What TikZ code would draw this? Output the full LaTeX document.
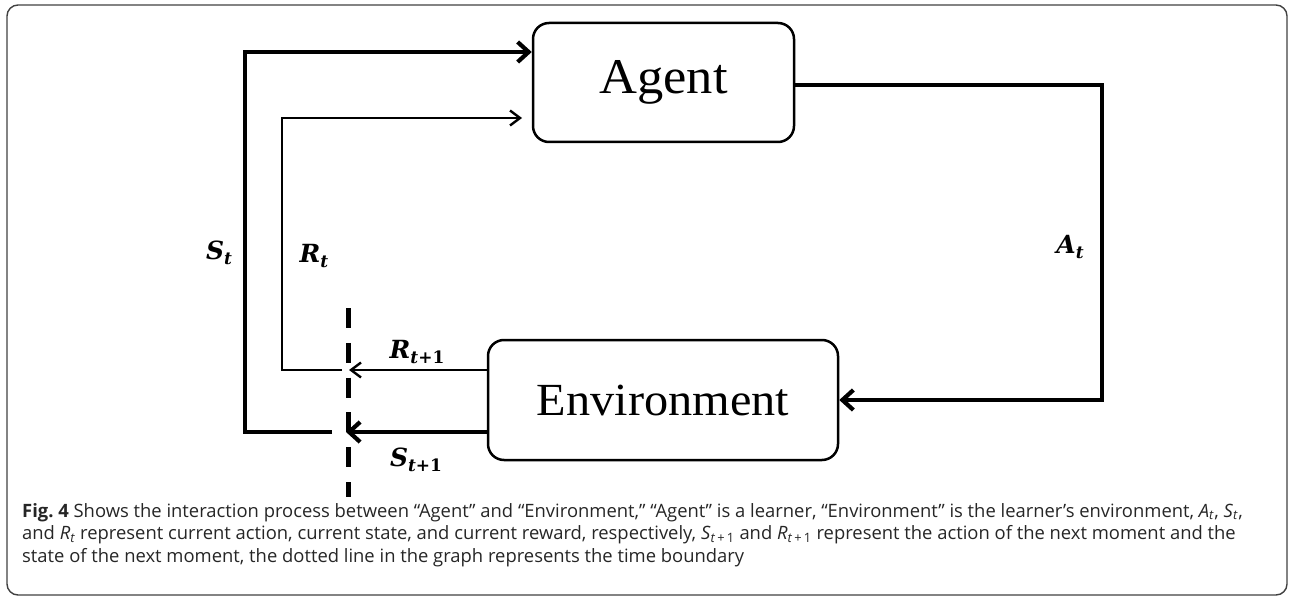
\documentclass[tikz,border=0pt]{standalone}
\usepackage{fontspec}
\setmainfont{Liberation Serif}
\newfontfamily\capfont{Open Sans}
\newfontfamily\labfont{DejaVu Serif}
\usetikzlibrary{arrows.meta}
\newcommand{\lbl}[2]{{\labfont\bfseries\itshape #1\raisebox{-5pt}{\fontsize{17}{17}\selectfont #2}}}
\begin{document}
\begin{tikzpicture}[x=1pt,y=-1pt,
  box/.style={draw, line width=2.5pt, rounded corners=16pt, inner sep=0pt},
  thickln/.style={line width=4.2pt},
  thinln/.style={line width=2.4pt},
  thickarr/.style={thickln, -{Straight Barb[length=11pt,width=20pt]}},
  thinarr/.style={thinln, -{Straight Barb[length=10pt,width=15pt]}},
  lab/.style={inner sep=0pt, font=\fontsize{25}{25}\selectfont},
  capline/.style={anchor=base west, inner sep=0pt, text=black!85, font=\capfont\fontsize{18.4}{18.4}\selectfont},
  timeline/.style={line width=5pt, dash pattern=on 20pt off 14.8pt}
]
\useasboundingbox (0,0) rectangle (1290,596);
% outer frame
\draw[line width=1.4pt, draw=black!75, rounded corners=11pt] (7,5) rectangle (1287,595);

% boxes
\node[box, minimum width=261pt, minimum height=119pt] (agent) at (663.5,82.5)
  {\scalebox{1.05}[1]{\fontsize{50}{50}\selectfont Agent}};
\node[box, minimum width=350pt, minimum height=120pt] (env) at (663,400)
  {\scalebox{1.05}[1]{\fontsize{46}{46}\selectfont Environment}};

% coordinates
\coordinate (sL) at (332,432);
\coordinate (sC1) at (245,432);
\coordinate (sC2) at (245,52);
\coordinate (sTip) at (346,432);
\coordinate (rL) at (342,370);
\coordinate (rC1) at (282,370);
\coordinate (rC2) at (282,118);
\coordinate (rEnd) at (522,118);
\coordinate (rTip) at (349,370);
\coordinate (aTop) at (1102,85);
\coordinate (aBot) at (1102,400);
\coordinate (dTop) at (348,308);
\coordinate (dBot) at (348,497);

% time boundary
\draw[timeline] (dTop) -- (dBot);

% S_t loop
\draw[thickarr] (sL) -- (sC1) -- (sC2) -- (sC2 -| agent.west);
% R_t loop
\draw[thinarr] (rL) -- (rC1) -- (rC2) -- (rEnd);
% S_{t+1}, R_{t+1}
\draw[thickarr] (env.west |- sL) -- (sTip);
\draw[thinarr] (env.west |- rL) -- (rTip);
% A_t
\draw[thickarr] (agent.east |- aTop) -- (aTop) -- (aBot) -- (env.east |- aBot);

% labels
\node[lab] (lSt) at (219,253) {\lbl{S}{t}};
\node[lab] (lRt) at (314,256) {\lbl{R}{t}};
\node[lab] (lAt) at (1070,247) {\lbl{A}{t}};
\node[lab] (lRt1) at (417,352) {\lbl{R}{t{\upshape +1}}};
\node[lab] (lSt1) at (416,460) {\lbl{S}{t{\upshape +1}}};

% caption
\node[capline] (c1) at (22,517) {{\bfseries Fig.\ 4} Shows the interaction process between “Agent” and “Environment,” “Agent” is a learner, “Environment” is the learner’s environment, \textit{A}\textsubscript{\textit{t}}, \textit{S}\textsubscript{\textit{t}},};
\node[capline] (c2) at (22,539.5) {and \textit{R}\textsubscript{\textit{t}} represent current action, current state, and current reward, respectively, \textit{S}\textsubscript{\textit{t}\,+\,1} and \textit{R}\textsubscript{\textit{t}\,+\,1} represent the action of the next moment and the};
\node[capline] (c3) at (22,562) {state of the next moment, the dotted line in the graph represents the time boundary};
\end{tikzpicture}
\end{document}
